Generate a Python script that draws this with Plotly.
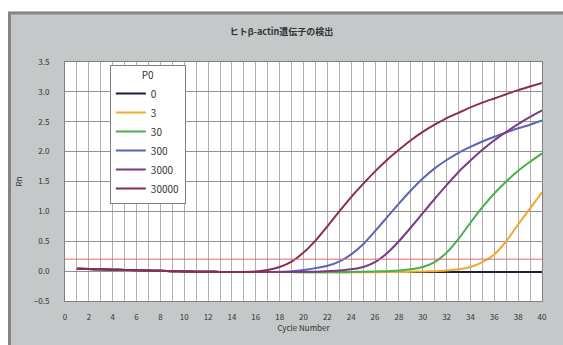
import plotly.graph_objects as go

cycles = list(range(1, 41))
base = [0.04, 0.035, 0.03, 0.025, 0.02, 0.015, 0.01, 0.005, 0.0, -0.005,
        -0.01, -0.01, -0.015, -0.015, -0.015, -0.015, -0.015]

s_0 = base + [-0.015] * 23
s_3 = base + [-0.015, -0.015, -0.02, -0.02, -0.02, -0.02, -0.02, -0.02, -0.02, -0.015,
              -0.015, -0.01, -0.005, 0.0,
              0.01, 0.03, 0.07, 0.15, 0.28, 0.5, 0.78, 1.05, 1.32]
s_30 = base + [-0.015, -0.015, -0.02, -0.02, -0.02, -0.02, -0.015, -0.01, -0.005, 0.0,
               0.01, 0.03, 0.07, 0.15, 0.31, 0.54, 0.81, 1.07, 1.3, 1.5, 1.68, 1.83, 1.97]
s_300 = base + [-0.01, 0.0, 0.02, 0.05, 0.09, 0.16, 0.28, 0.45, 0.67, 0.9,
                1.13, 1.35, 1.55, 1.72, 1.86, 1.98, 2.08, 2.17, 2.25, 2.32, 2.39, 2.45, 2.52]
s_3000 = base + [-0.015, -0.015, -0.01, -0.01, 0.0, 0.01, 0.03, 0.07, 0.15, 0.3,
                 0.5, 0.73, 0.97, 1.21, 1.44, 1.66, 1.85, 2.03, 2.19, 2.33, 2.46, 2.58, 2.69]
s_30000 = base[:15] + [-0.005, 0.02, 0.07, 0.16, 0.31, 0.51, 0.75, 1.0, 1.24, 1.46, 1.67,
                       1.86, 2.03, 2.19, 2.33, 2.45, 2.56, 2.65, 2.74, 2.82, 2.89, 2.96,
                       3.03, 3.09, 3.15]

series_names = ["0", "3", "30", "300", "3000", "30000"]
series_values = [s_0, s_3, s_30, s_300, s_3000, s_30000]
series_colors = ["#1c1c3c", "#f0a830", "#48b048", "#5866b4", "#7a3a86", "#8b2d4f"]
threshold = 0.2

x_tickvals = list(range(0, 41))
x_ticktext = [str(v) if v % 2 == 0 else "" for v in x_tickvals]

fig = go.Figure()
for name, vals, col in zip(series_names, series_values, series_colors):
    fig.add_trace(go.Scatter(x=cycles, y=vals, mode="lines", name=name,
                             line=dict(color=col, width=2, shape="spline", smoothing=0.6)))

fig.add_shape(type="line", xref="paper", yref="y", x0=0, x1=1, y0=threshold, y1=threshold,
              line=dict(color="#e46a6a", width=1), layer="above")

# white page strips outside the gray frame (top and left)
L, T, W, H = 65, 62, 477, 239
def px(x):
    return (x - L) / W
def py(y):
    return (T + H - y) / H

fig.add_shape(type="rect", xref="paper", yref="paper", x0=px(-5), x1=px(600),
              y0=py(11.5), y1=py(-5), fillcolor="white", line=dict(width=0), layer="below")
fig.add_shape(type="rect", xref="paper", yref="paper", x0=px(-5), x1=px(8),
              y0=py(400), y1=py(-5), fillcolor="white", line=dict(width=0), layer="below")
# frame borders
fig.add_shape(type="line", xref="paper", yref="paper", x0=px(8), x1=px(600),
              y0=py(13), y1=py(13), line=dict(color="#858585", width=3), layer="below")
fig.add_shape(type="line", xref="paper", yref="paper", x0=px(9.5), x1=px(9.5),
              y0=py(12), y1=py(400), line=dict(color="#858585", width=3), layer="below")

fig.update_layout(
    width=563, height=345,
    margin=dict(l=L, r=563 - L - W, t=T, b=345 - T - H),
    paper_bgcolor="#c4c8c8", plot_bgcolor="white",
    font=dict(family="Noto Sans CJK JP, Noto Sans, sans-serif", size=8, color="#333333"),
    title=dict(text="<b>ヒトβ-actin遺伝子の検出</b>", x=0.5, xanchor="center",
               y=1 - 32 / 345, yanchor="middle", font=dict(size=9, color="#333333")),
    showlegend=True,
    legend=dict(x=0.094, y=0.987, xanchor="left", yanchor="top",
                bgcolor="white", bordercolor="#808080", borderwidth=1,
                font=dict(size=10, color="#333333"),
                title=dict(text="P0", side="top center", font=dict(size=10)),
                itemwidth=30, tracegroupgap=0, entrywidth=60, entrywidthmode="pixels"),
    xaxis=dict(range=[0, 40], tickmode="array", tickvals=x_tickvals, ticktext=x_ticktext,
               showgrid=True, gridcolor="#b0b0b0", gridwidth=1,
               showline=True, linecolor="#808080", linewidth=1, mirror=True,
               zeroline=False, ticks="", ticklabelstandoff=8,
               title=dict(text="Cycle Number", standoff=3, font=dict(size=8))),
    yaxis=dict(range=[-0.5, 3.5], tickmode="linear", tick0=-0.5, dtick=0.5,
               tickformat=".1f", showgrid=True, gridcolor="#909090", gridwidth=1,
               showline=True, linecolor="#808080", linewidth=1, mirror=True,
               zeroline=False, ticks="outside", ticklen=13, tickcolor="rgba(0,0,0,0)",
               title=dict(text="Rn", standoff=10, font=dict(size=8))),
)

fig.write_html("out.html", config={"displayModeBar": False},
               post_script="document.body.style.margin='0';document.body.style.overflow='hidden';")
